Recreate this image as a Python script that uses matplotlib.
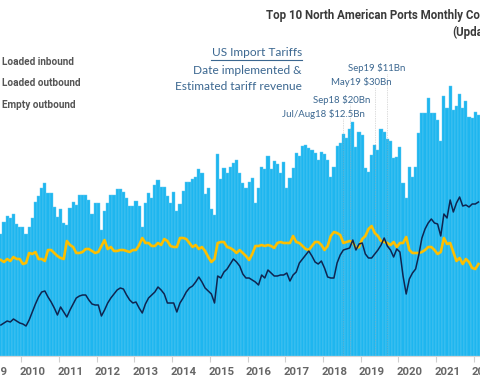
import numpy as np
import pandas as pd
import matplotlib
matplotlib.use("Agg")
import matplotlib.pyplot as plt

# monthly volumes, thousand TEU, Jun 2009 - Feb 2022 (chart is cropped)
months = pd.date_range("2009-06-01", periods=153, freq="MS")

loaded_inbound = [
    1220, 1340, 1400, 1380, 1420, 1320, 1290, 1290, 1220, 1290,
    1380, 1540, 1600, 1680, 1730, 1630, 1630, 1490, 1390, 1470,
    1330, 1310, 1480, 1540, 1510, 1610, 1610, 1610, 1560, 1420,
    1530, 1530, 1260, 1450, 1530, 1610, 1610, 1670, 1670, 1640,
    1580, 1500, 1500, 1550, 1500, 1290, 1530, 1630, 1580, 1710,
    1760, 1690, 1690, 1600, 1530, 1640, 1450, 1520, 1650, 1740,
    1740, 1770, 1790, 1870, 1830, 1620, 1680, 1470, 1410, 2020,
    1770, 1880, 1830, 1890, 1930, 1960, 1830,
    1730, 1680, 1740, 1780, 1530, 1680, 1890, 1870, 2000, 1870,
    1950, 1920, 1830, 1940, 1680, 1780, 1880, 2030, 2000, 2100,
    2110, 2080, 2060, 2030, 1960,
    2040, 2020, 1960, 1790, 1890, 2100, 2130, 2220, 2180, 2270,
    2340, 2090, 2240, 2210, 1880, 1840, 2010, 2110, 2060, 2270,
    2240, 2170, 2150, 1980, 1990, 2090,
    1730, 1580, 1890, 1790, 1890, 2230, 2430, 2430, 2580, 2430,
    2430, 2360, 2150, 2600, 2480, 2700, 2460, 2500, 2620, 2480,
    2550, 2390, 2380, 2440, 2410,
]

loaded_outbound = [
    960, 940, 970, 950, 990, 970, 970, 920, 930, 1030,
    1020, 1040, 970, 970, 950, 1060, 1060, 1030, 1000, 980,
    970, 1150, 1110, 1090, 1030, 1030, 1040, 1070, 1070, 1050,
    1030, 1040, 1100, 1160, 1070, 1090, 1050, 1050, 1060, 1060,
    1050, 1040, 1060, 1060, 1110, 1180, 1130, 1130, 1100, 1100,
    1130, 1110, 1170, 1150, 1100, 1090, 1090, 1180, 1180, 1170,
    1130, 1090, 1110, 1070, 1090, 1050, 990, 940, 970, 1130,
    1140, 1140, 1090, 1080, 1060, 1030, 1060,
    1030, 1000, 960, 1020, 1100, 1100, 1110, 1100, 1110, 1100,
    1080, 1130, 1140, 1130, 1130, 1130, 1200, 1140, 1130, 1100,
    1070, 1060, 1100, 1140, 1140,
    1110, 1060, 1100, 1200, 1240, 1230, 1210, 1130, 1140, 1150,
    1140, 1080, 1090, 1170, 1200, 1270, 1300, 1230, 1200, 1150,
    1140, 1130, 1110, 1140, 1090, 1130,
    1130, 1190, 1060, 1030, 1030, 1030, 1040, 1060, 1090, 1090,
    1060, 1020, 1040, 1180, 1120, 1130, 1040, 950, 980, 920,
    970, 940, 880, 870, 920,
]

empty_outbound = [
    310, 330, 350, 340, 370, 350, 330, 320, 300, 360,
    440, 520, 590, 640, 650, 590, 540, 480, 410, 490,
    440, 390, 460, 520, 580, 600, 610, 610, 560, 520,
    510, 510, 400, 460, 530, 580, 620, 660, 680, 670,
    610, 560, 530, 540, 480, 430, 520, 580, 610, 640,
    690, 660, 620, 530, 530, 530, 440, 530, 580, 640,
    680, 700, 740, 790, 740, 680, 650, 620, 530, 800,
    780, 840, 870, 920, 970, 940, 900,
    820, 780, 780, 760, 740, 710, 810, 780, 860, 830,
    800, 800, 810, 810, 830, 750, 810, 840, 930, 970,
    1010, 1050, 1000, 940, 920,
    950, 880, 790, 780, 780, 930, 1010, 1060, 1070, 1080,
    1160, 1060, 1120, 1130, 1020, 980, 980, 1020, 1060, 1110,
    1180, 1100, 1060, 990, 1070, 1040,
    800, 620, 770, 830, 870, 1010, 1180, 1270, 1330, 1370,
    1330, 1320, 1200, 1420, 1380, 1560, 1440, 1530, 1590, 1500,
    1510, 1490, 1520, 1520, 1540,
]

legend_labels = ["Loaded inbound", "Loaded outbound", "Empty outbound"]

tariff_dates = ["2018-07-01", "2018-09-01", "2019-05-01", "2019-09-01"]
tariff_labels = ["Jul/Aug18 $12.5Bn", "Sep18 $20Bn", "May19 $30Bn", "Sep19 $11Bn"]

BLUE = "#1eb6ef"
GOLD = "#fdbf00"
NAVY = "#0f2550"
TXT_BLUE = "#3b6790"
GREY = "#6b6b6b"

W, H = 480, 384
fig = plt.figure(figsize=(W / 100, H / 100), dpi=100)
ax = fig.add_axes([0, 28 / H, 1, 356 / H])

x = np.arange(len(months))
ax.bar(x, loaded_inbound, width=1.0, color=BLUE, edgecolor="#62caf2",
       linewidth=0.3, zorder=1)
ax.plot(x, loaded_outbound, color=GOLD, lw=1.9, zorder=3, solid_joinstyle="round")
ax.plot(x, empty_outbound, color=NAVY, lw=1.1, zorder=4, solid_joinstyle="round")

# tariff markers: dotted lines from under each label down to the axis
line_tops = [2380, 2520, 2690, 2830]
label_pos = [(282, 114), (313, 100), (331, 82), (348, 68)]
for d, lab, top, (px, py) in zip(tariff_dates, tariff_labels, line_tops, label_pos):
    i = months.get_loc(pd.Timestamp(d))
    ax.plot([i, i], [0, top], color="#a8a8a8", lw=0.5, alpha=0.8,
            ls=(0, (1, 1.5)), zorder=2)
    fig.text(px / W, 1 - py / H, lab, fontsize=6.9, family=["Lato", "DejaVu Sans"],
             color=TXT_BLUE, ha="left", va="center")

# x axis: ticks at year boundaries, labels shifted into the year
year_starts = [i for i, m in enumerate(months) if m.month == 1]
ticks = [i - 0.5 for i in year_starts]
ticks = [ticks[0] - 12] + ticks
years = [months[year_starts[0]].year - 1] + [months[i].year for i in year_starts]
ax.set_xticks(ticks)
ax.set_xticklabels([])
ax.tick_params(axis="x", length=4, width=0.8, color="#cfcfcf")
ax.set_yticks([])
ax.set_xlim(-0.28, 152.49)
ax.set_ylim(0, 3560)
for t, yr in zip(ticks, years):
    ax.text(t + 3.6, -0.045, str(yr), transform=ax.get_xaxis_transform(),
            ha="center", va="center", fontsize=8.2, fontweight="bold",
            family=["Roboto", "DejaVu Sans"], color="#666666")

for s in ["top", "left", "right"]:
    ax.spines[s].set_visible(False)
ax.spines["bottom"].set_color("#d6d6d6")
ax.spines["bottom"].set_linewidth(0.8)

# legend texts (markers fall outside the crop)
for lab, py in zip(legend_labels, [62, 83, 105]):
    fig.text(2 / W, 1 - py / H, lab, fontsize=7.2, fontweight="bold",
             family=["Roboto", "DejaVu Sans"], color="#555555", va="center")

# title (runs off the right edge)
fig.text(266 / W, 1 - 15 / H, "Top 10 North American Ports Monthly Container Volumes",
         fontsize=8.3, fontweight="bold", family=["Roboto", "DejaVu Sans"],
         color="#3a3a3a", va="center")
fig.text(452 / W, 1 - 32 / H, "(Updated)", fontsize=8.3, fontweight="bold",
         family=["Roboto", "DejaVu Sans"], color="#3a3a3a", va="center")

# tariff key
key = ["US Import Tariffs", "Date implemented &", "Estimated tariff revenue"]
for k, py in zip(key, [52, 70, 87]):
    fig.text(302 / W, 1 - py / H, k, fontsize=8.6, family=["Lato", "DejaVu Sans"],
             color=TXT_BLUE, ha="right", va="center")
fig.add_artist(plt.Line2D([211 / W, 302 / W], [1 - 60 / H, 1 - 60 / H],
                          color=TXT_BLUE, lw=0.8))

fig.savefig("out.png", dpi=100)
